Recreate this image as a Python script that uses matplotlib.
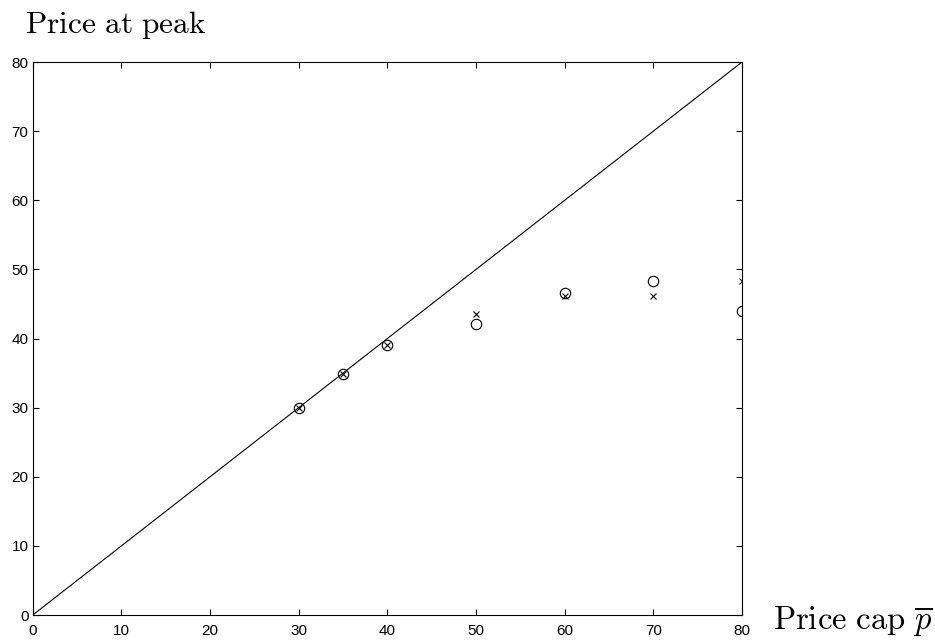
import matplotlib
matplotlib.use("Agg")
import matplotlib.pyplot as plt

price_cap = [30, 35, 40, 50, 60, 70, 80]
peak_circle = [30.0, 34.8, 39.1, 42.1, 46.6, 48.3, 44.0]
peak_cross = [30.0, 34.8, 39.1, 43.6, 46.1, 46.2, 48.3]
diag = [0, 80]
xticks = [0, 10, 20, 30, 40, 50, 60, 70, 80]
yticks = [0, 10, 20, 30, 40, 50, 60, 70, 80]

plt.rcParams['mathtext.fontset'] = 'cm'
plt.rcParams['font.family'] = ['Liberation Sans', 'DejaVu Sans']

fig = plt.figure(figsize=(9.35, 6.42), dpi=100)
ax = fig.add_axes([0.035, 0.042, 0.7586, 0.8614])

ax.plot(diag, diag, color='black', lw=0.8)
ax.plot(price_cap, peak_circle, linestyle='none', marker='o', markersize=7.5,
        markerfacecolor='none', markeredgecolor='black', markeredgewidth=0.8)
ax.plot(price_cap, peak_cross, linestyle='none', marker='x', markersize=4.8,
        color='black', markeredgewidth=0.8)

ax.set_xlim(0, 80)
ax.set_ylim(0, 80)
ax.set_xticks(xticks)
ax.set_yticks(yticks)
ax.tick_params(direction='in', length=4.3, width=0.8, top=True, right=True,
               labelsize=11)
ax.tick_params(axis='x', pad=6.5)
ax.tick_params(axis='y', pad=3)
for s in ax.spines.values():
    s.set_linewidth(0.8)

fig.text(25 / 935, (642 - 33) / 642, r'$\mathrm{Price\ at\ peak}$', fontsize=22.6,
         va='baseline', ha='left')
fig.text(773 / 935, (642 - 630) / 642, r'$\mathrm{Price\ cap}\ \overline{p}$', fontsize=23.5,
         va='baseline', ha='left')

fig.savefig('out.png', dpi=100)
